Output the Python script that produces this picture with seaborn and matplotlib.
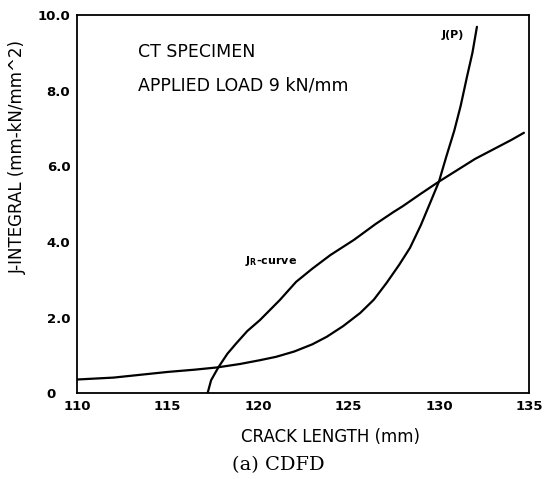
import numpy as np
import pandas as pd
import seaborn as sns
import matplotlib.pyplot as plt

# J_R resistance curve
jr_x = [117.2, 117.4, 117.8, 118.3, 118.8, 119.4, 120.1, 121.2, 122.1, 123.0, 124.0,
        125.3, 126.5, 127.5, 128.0, 129.0, 130.0, 131.0, 132.0, 133.0, 134.0, 134.7]
jr_y = [0.0, 0.35, 0.69, 1.05, 1.33, 1.65, 1.94, 2.47, 2.95, 3.30, 3.66,
        4.06, 4.48, 4.80, 4.95, 5.28, 5.60, 5.90, 6.20, 6.45, 6.70, 6.89]

# applied J(P) curve
jp_x = [110.0, 112.0, 113.0, 115.0, 116.5, 117.75, 119.0, 120.1, 121.0, 122.0, 123.0,
        123.8, 124.7, 125.65, 126.4, 127.1, 127.8, 128.4, 129.0, 129.55, 130.0,
        130.4, 130.85, 131.2, 131.55, 131.85, 132.1]
jp_y = [0.37, 0.42, 0.47, 0.57, 0.63, 0.69, 0.78, 0.88, 0.97, 1.11, 1.30,
        1.50, 1.78, 2.13, 2.48, 2.92, 3.40, 3.85, 4.45, 5.08, 5.60,
        6.25, 6.95, 7.60, 8.37, 9.00, 9.69]

x_ticks = [110, 115, 120, 125, 130, 135]
y_ticks = [0, 2, 4, 6, 8, 10]
y_tick_labels = ['0   ', '2.0', '4.0', '6.0', '8.0', '10.0']

sns.set_style("white")
plt.rcParams['font.family'] = ['DejaVu Sans']
plt.rcParams['text.color'] = 'black'
plt.rcParams['axes.labelcolor'] = 'black'
plt.rcParams['xtick.color'] = 'black'
plt.rcParams['ytick.color'] = 'black'

fig = plt.figure(figsize=(5.52, 4.79), dpi=100)
ax = fig.add_axes([0.140, 0.1785, 0.819, 0.790])

sns.lineplot(x=jr_x, y=jr_y, color='black', linewidth=1.6, ax=ax, sort=False)
sns.lineplot(x=jp_x, y=jp_y, color='black', linewidth=1.6, ax=ax, sort=False)

ax.set_xlim(110, 135)
ax.set_ylim(0, 10)
ax.set_xticks(x_ticks)
ax.set_xticklabels([str(t) for t in x_ticks], fontweight='bold', fontsize=9.5)
ax.set_yticks(y_ticks)
ax.set_yticklabels(y_tick_labels, fontweight='bold', fontsize=9.5)
ax.tick_params(direction='in', length=3, width=1, pad=5)
for s in ax.spines.values():
    s.set_color('black')
    s.set_linewidth(1.3)

ax.set_xlabel('CRACK LENGTH (mm)', fontsize=12)
ax.xaxis.set_label_coords(0.561, -0.091)
ax.set_ylabel('J-INTEGRAL (mm-kN/mm^2)', fontsize=12)
ax.yaxis.set_label_coords(-0.111, 0.625)

ax.text(0.134, 0.903, 'CT SPECIMEN', transform=ax.transAxes, fontsize=12.5, va='center')
ax.text(0.134, 0.815, 'APPLIED LOAD 9 kN/mm', transform=ax.transAxes, fontsize=12.5, va='center')
ax.text(131.4, 9.47, 'J(P)', fontsize=8, fontweight='bold', ha='right', va='center')
ax.text(119.3, 3.5, r'J$_\mathregular{R}$-curve', fontsize=8, fontweight='bold', ha='left', va='center')

fig.text(0.504, 0.029, '(a) CDFD', fontsize=14, family='DejaVu Serif', ha='center', va='center')

plt.savefig('out.png', dpi=100)
